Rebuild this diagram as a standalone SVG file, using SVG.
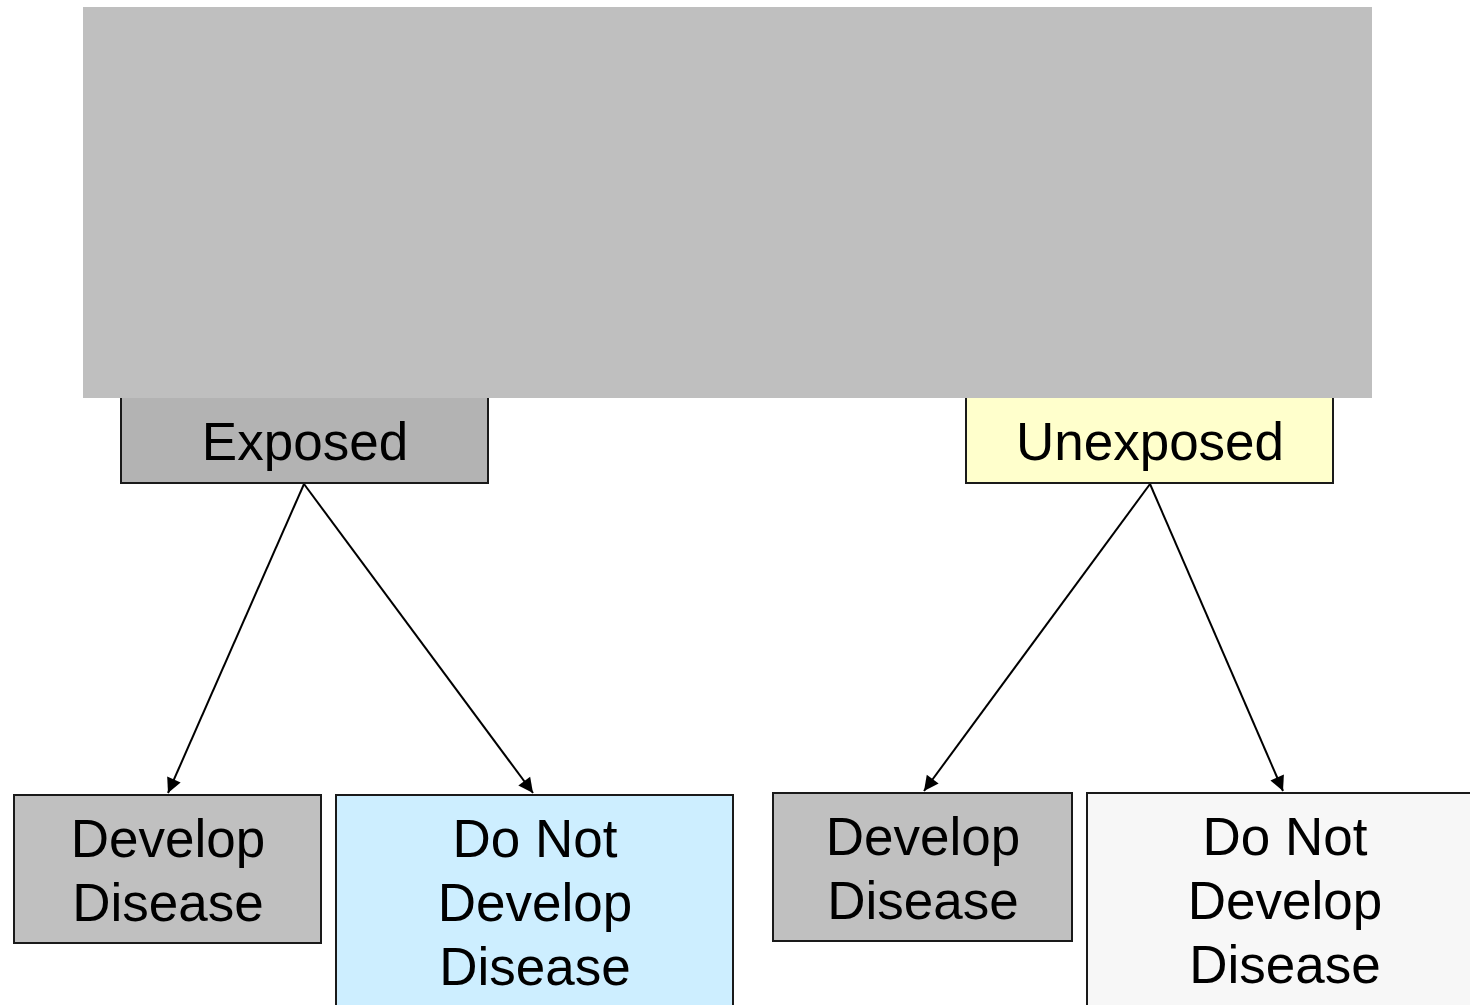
<svg xmlns="http://www.w3.org/2000/svg" width="1470" height="1005" viewBox="0 0 1470 1005">
  <style>
    .box { stroke: #1a1a1a; stroke-width: 2; }
    .lbl { font-family: "Liberation Sans", Arial, sans-serif; font-size: 53px; fill: #000; text-anchor: middle; }
    .edge { stroke: #000; stroke-width: 2; fill: none; marker-end: url(#arrow); }
  </style>
  <defs>
    <marker id="arrow" viewBox="0 0 10 10" refX="10" refY="5" markerWidth="7" markerHeight="7" markerUnits="userSpaceOnUse" orient="auto" overflow="visible">
      <path d="M0,0 L10,5 L0,10 z" fill="#000" transform="scale(2.1)" transform-origin="10 5"/>
    </marker>
  </defs>

  <rect width="1470" height="1005" fill="#ffffff"/>

  <!-- connectors -->
  <g id="connectors">
    <line class="edge" x1="320" y1="330" x2="320" y2="400"/>
    <line class="edge" x1="1136" y1="330" x2="1136" y2="400"/>
    <line class="edge" x1="304" y1="484" x2="168" y2="793"/>
    <line class="edge" x1="304" y1="484" x2="533" y2="793"/>
    <line class="edge" x1="1150" y1="484" x2="924" y2="791"/>
    <line class="edge" x1="1150" y1="484" x2="1283" y2="791"/>
  </g>

  <g id="exposed">
    <rect class="box" x="121" y="380" width="367" height="103" fill="#b3b3b3"/>
    <text class="lbl" x="305" y="460">Exposed</text>
  </g>

  <g id="unexposed">
    <rect class="box" x="966" y="380" width="367" height="103" fill="#ffffcc"/>
    <text class="lbl" x="1150" y="460">Unexposed</text>
  </g>

  <!-- grey panel over the top of the tree -->
  <rect id="panel" x="83" y="7" width="1289" height="391" fill="#bfbfbf"/>

  <g id="exp-develop">
    <rect class="box" x="14" y="795" width="307" height="148" fill="#c0c0c0"/>
    <text class="lbl" x="168" y="857">Develop</text>
    <text class="lbl" x="168" y="921">Disease</text>
  </g>

  <g id="exp-not-develop">
    <rect class="box" x="336" y="795" width="397" height="230" fill="#cdeeff"/>
    <text class="lbl" x="535" y="857">Do Not</text>
    <text class="lbl" x="535" y="921">Develop</text>
    <text class="lbl" x="535" y="985">Disease</text>
  </g>

  <g id="unexp-develop">
    <rect class="box" x="773" y="793" width="299" height="148" fill="#c0c0c0"/>
    <text class="lbl" x="923" y="855">Develop</text>
    <text class="lbl" x="923" y="919">Disease</text>
  </g>

  <g id="unexp-not-develop">
    <rect class="box" x="1087" y="793" width="400" height="230" fill="#f7f7f7"/>
    <text class="lbl" x="1285" y="855">Do Not</text>
    <text class="lbl" x="1285" y="919">Develop</text>
    <text class="lbl" x="1285" y="983">Disease</text>
  </g>
</svg>
